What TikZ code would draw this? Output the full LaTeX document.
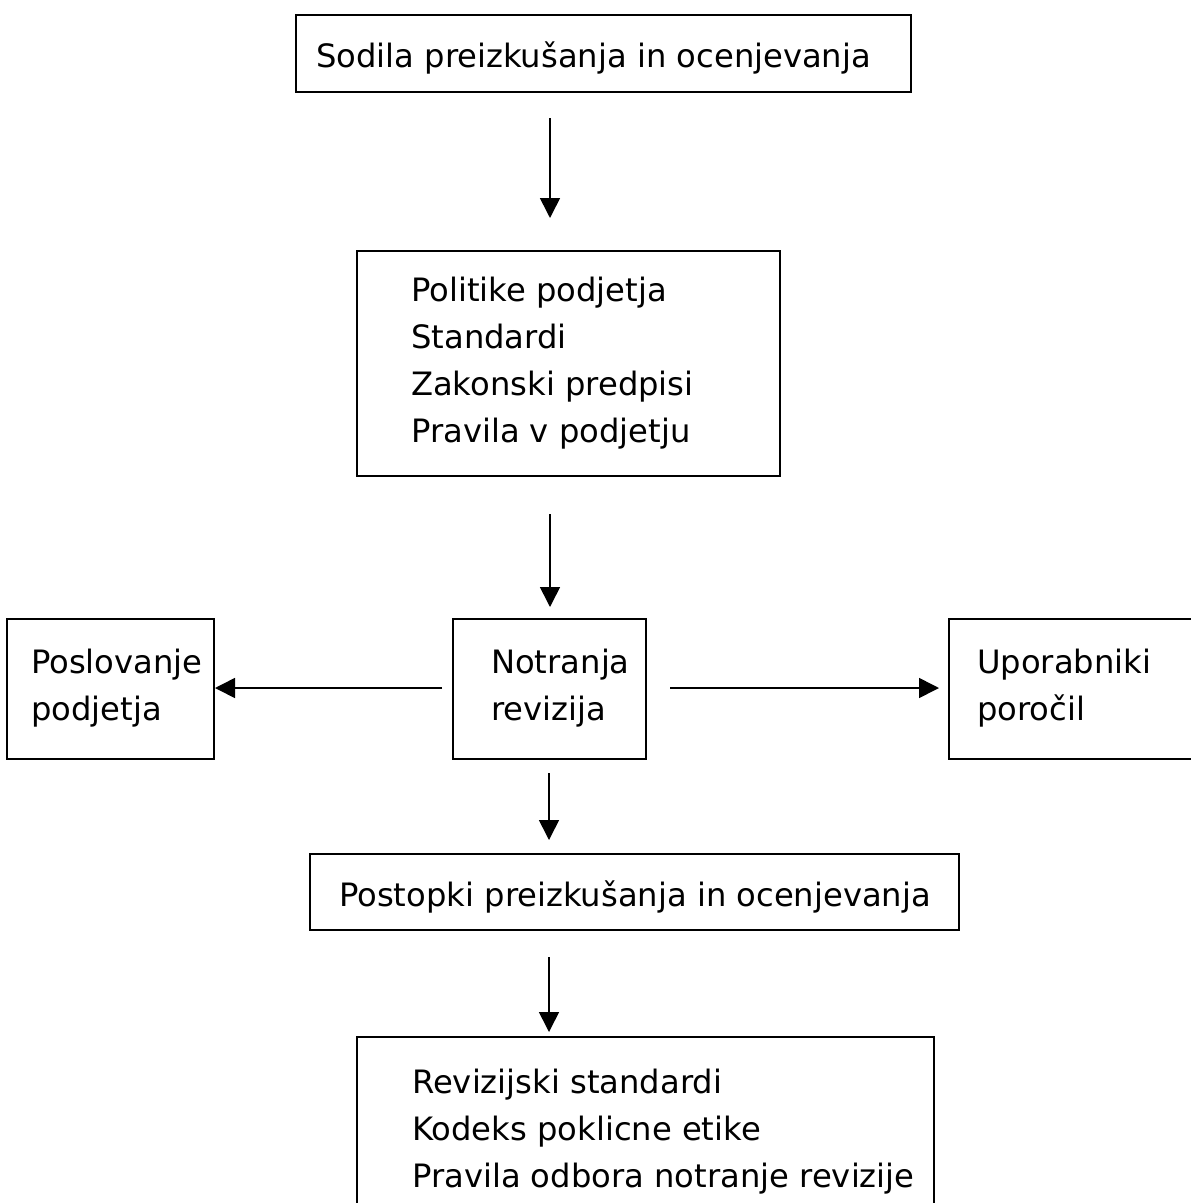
\documentclass[tikz,border=0pt]{standalone}
\usepackage{fontspec}
\setmainfont{DejaVu Sans}
\usetikzlibrary{arrows.meta,fit}
\begin{document}
\begin{tikzpicture}[x=1pt,y=-1pt,
  box/.style={draw=black,line width=2pt,inner sep=0pt,rectangle},
  txt/.style={inner sep=0pt,anchor=base west,font=\fontsize{32.2}{47}\selectfont},
  arr/.style={draw=black,line width=1.6pt,-{Triangle[length=20pt,width=20pt]}}]
\useasboundingbox (0,0) rectangle (1191,1203);
% boxes
\node[box,fit={(296,15) (911,92)}] (b1) {};
\node[box,fit={(357,251) (780,476)}] (b2) {};
\node[box,fit={(453,619) (646,759)}] (bc) {};
\node[box,fit={(7,619) (214,759)}] (bl) {};
\node[box,fit={(949,619) (1197,759)}] (br) {};
\node[box,fit={(310,854) (959,930)}] (b4) {};
\node[box,fit={(357,1037) (934,1216)}] (b5) {};
% texts
\node[txt] (t1) at (316,67) {Sodila preizkušanja in ocenjevanja};
\node[txt] (t2a) at (411,301) {Politike podjetja};
\node[txt] (t2b) at (411,348) {Standardi};
\node[txt] (t2c) at (411,395) {Zakonski predpisi};
\node[txt] (t2d) at (411,442) {Pravila v podjetju};
\node[txt] (tca) at (491,673) {Notranja};
\node[txt] (tcb) at (491,720) {revizija};
\node[txt] (tla) at (31,673) {Poslovanje};
\node[txt] (tlb) at (31,720) {podjetja};
\node[txt] (tra) at (977,673) {Uporabniki};
\node[txt] (trb) at (977,720) {poročil};
\node[txt] (t4) at (339,906) {Postopki preizkušanja in ocenjevanja};
\node[txt] (t5a) at (412,1093) {Revizijski standardi};
\node[txt] (t5b) at (412,1140) {Kodeks poklicne etike};
\node[txt] (t5c) at (412,1187) {Pravila odbora notranje revizije};
% arrow end points
\coordinate (a1s) at (550,118); \coordinate (a1e) at (550,218);
\coordinate (a2s) at (550,514); \coordinate (a2e) at (550,607);
\coordinate (aLs) at (442,688); \coordinate (aLe) at (215,688);
\coordinate (aRs) at (670,688); \coordinate (aRe) at (939,688);
\coordinate (a3s) at (549,773); \coordinate (a3e) at (549,840);
\coordinate (a4s) at (549,957); \coordinate (a4e) at (549,1032);
\draw[arr] (a1s) -- (a1e);
\draw[arr] (a2s) -- (a2e);
\draw[arr] (aLs) -- (aLe);
\draw[arr] (aRs) -- (aRe);
\draw[arr] (a3s) -- (a3e);
\draw[arr] (a4s) -- (a4e);
\end{tikzpicture}
\end{document}
